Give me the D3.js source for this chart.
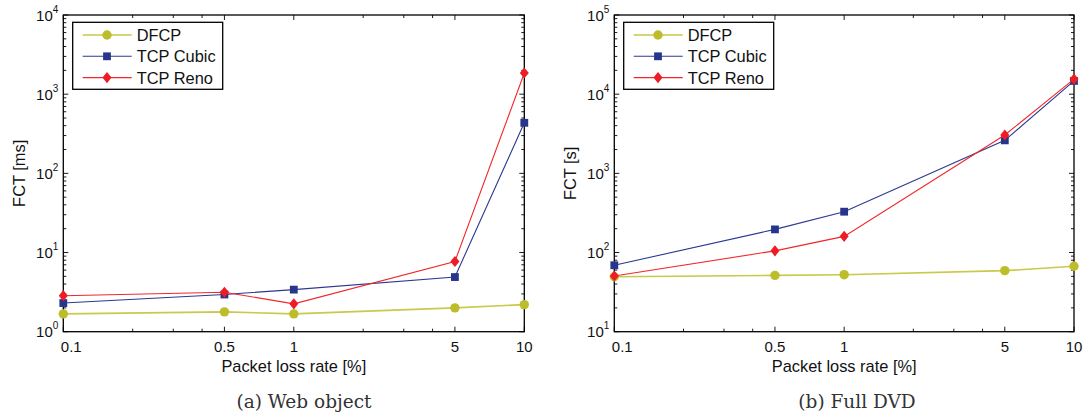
<!DOCTYPE html>
<html>
<head>
<meta charset="utf-8">
<script src="https://cdn.jsdelivr.net/npm/d3@7/dist/d3.min.js"></script>
<style>
  html, body { margin: 0; padding: 0; background: #fff; }
  svg { display: block; }
  text { font-family: "Liberation Sans", Arial, Helvetica, sans-serif; fill: #111; }
  .caption { font-family: "DejaVu Serif", "Liberation Serif", serif; fill: #333; }
</style>
</head>
<body>
<svg id="fig" width="1089" height="420"></svg>
<script>
// Packet loss rates (%) on the x axis
const lossRates = [0.1, 0.5, 1, 5, 10];
const xTickValues = [0.1, 0.5, 1, 5, 10];
const xTickLabels = ["0.1", "0.5", "1", "5", "10"];
const xMinorTicks = [0.2, 0.3, 0.4, 2, 3, 4];

// Series names
const seriesNames = ["DFCP", "TCP Cubic", "TCP Reno"];

// (a) Web object, flow completion time in ms
const webDFCP  = [1.68, 1.78, 1.68, 2.0, 2.2];
const webCubic = [2.3, 2.95, 3.4, 4.9, 435];
const webReno  = [2.85, 3.15, 2.25, 7.7, 1850];
const webYExponents = [0, 1, 2, 3, 4];

// (b) Full DVD, flow completion time in s
const dvdDFCP  = [49.5, 51.5, 52.5, 59, 67];
const dvdCubic = [69, 196, 328, 2610, 14700];
const dvdReno  = [50.5, 105, 160, 3050, 15500];
const dvdYExponents = [1, 2, 3, 4, 5];

const styles = [
  { line: "#c9c94a", fill: "#bdbd2c", width: 1.6, marker: "circle" },
  { line: "#2b3990", fill: "#27368c", width: 1.1, marker: "square" },
  { line: "#f0282c", fill: "#ee1c24", width: 1.1, marker: "diamond" }
];

const svg = d3.select("#fig");

function drawMarker(g, type, cx, cy, s) {
  if (type === "circle") {
    g.append("circle").attr("cx", cx).attr("cy", cy).attr("r", 4.7)
      .attr("fill", s.fill);
  } else if (type === "square") {
    g.append("rect").attr("x", cx - 3.9).attr("y", cy - 3.9)
      .attr("width", 7.8).attr("height", 7.8).attr("fill", s.fill);
  } else {
    g.append("path")
      .attr("d", `M${cx},${cy - 5.6}L${cx + 4.5},${cy}L${cx},${cy + 5.6}L${cx - 4.5},${cy}Z`)
      .attr("fill", s.fill);
  }
}

function panel(opts) {
  const { left, right, top, bottom, yExps, data, yTitle, caption, captionX } = opts;
  const x = d3.scaleLog().domain([0.1, 10]).range([left, right]);
  const y = d3.scaleLog()
    .domain([Math.pow(10, yExps[0]), Math.pow(10, yExps[yExps.length - 1])])
    .range([bottom, top]);
  const g = svg.append("g");

  // tick marks on all four sides, pointing inward
  const tickG = g.append("g").attr("stroke", "#000").attr("stroke-width", 0.9);
  const xTick = (v, len) => {
    tickG.append("line").attr("x1", x(v)).attr("x2", x(v)).attr("y1", bottom).attr("y2", bottom - len);
    tickG.append("line").attr("x1", x(v)).attr("x2", x(v)).attr("y1", top).attr("y2", top + len);
  };
  xTickValues.forEach(v => xTick(v, 5));
  xMinorTicks.forEach(v => xTick(v, 3));

  const yMinor = [];
  for (let e = yExps[0]; e < yExps[yExps.length - 1]; e++) {
    for (let k = 2; k <= 9; k++) yMinor.push(k * Math.pow(10, e));
  }
  const yTick = (v, len) => {
    tickG.append("line").attr("x1", left).attr("x2", left + len).attr("y1", y(v)).attr("y2", y(v));
    tickG.append("line").attr("x1", right).attr("x2", right - len).attr("y1", y(v)).attr("y2", y(v));
  };
  yExps.forEach(e => yTick(Math.pow(10, e), 5));
  yMinor.forEach(v => yTick(v, 3));

  // plot box
  g.append("rect")
    .attr("x", left).attr("y", top)
    .attr("width", right - left).attr("height", bottom - top)
    .attr("fill", "none").attr("stroke", "#000").attr("stroke-width", 1.3);

  // x tick labels
  xTickValues.forEach((v, i) => {
    g.append("text")
      .attr("x", x(v) + (i === 0 ? 8 : 0)).attr("y", bottom + 20.5)
      .attr("text-anchor", "middle").attr("font-size", 15)
      .text(xTickLabels[i]);
  });

  // y tick labels as powers of ten
  yExps.forEach(e => {
    const t = g.append("text")
      .attr("x", left - 5).attr("y", y(Math.pow(10, e)) + 5.6)
      .attr("text-anchor", "end").attr("font-size", 15);
    t.append("tspan").text("10");
    t.append("tspan").attr("font-size", 10).attr("dy", -8).text(String(e));
  });

  // axis titles
  g.append("text")
    .attr("x", (left + right) / 2).attr("y", bottom + 40.5)
    .attr("text-anchor", "middle").attr("font-size", 16.4)
    .text("Packet loss rate [%]");
  g.append("text")
    .attr("transform", `translate(${left - 38.5},${(top + bottom) / 2}) rotate(-90)`)
    .attr("text-anchor", "middle").attr("font-size", 16.4)
    .text(yTitle);

  // series
  const line = d3.line().x((d, i) => x(lossRates[i])).y(d => y(d));
  data.forEach((vals, si) => {
    const s = styles[si];
    const sg = g.append("g");
    sg.append("path").datum(vals).attr("d", line)
      .attr("fill", "none").attr("stroke", s.line).attr("stroke-width", s.width);
    vals.forEach((v, i) => drawMarker(sg, s.marker, x(lossRates[i]), y(v), s));
  });

  // legend
  const lx = left + 9.4, ly = top + 7.3;
  const lg = g.append("g");
  lg.append("rect").attr("x", lx).attr("y", ly).attr("width", 150).attr("height", 67)
    .attr("fill", "#fff").attr("stroke", "#000").attr("stroke-width", 1.3);
  seriesNames.forEach((name, si) => {
    const s = styles[si];
    const cy = ly + 12.7 + si * 21.3;
    lg.append("line").attr("x1", lx + 10).attr("x2", lx + 59).attr("y1", cy).attr("y2", cy)
      .attr("stroke", s.line).attr("stroke-width", s.width);
    drawMarker(lg, s.marker, lx + 34.3, cy, s);
    lg.append("text").attr("x", lx + 64).attr("y", cy + 6)
      .attr("font-size", 16.4).text(name);
  });

  // caption
  svg.append("text").attr("class", "caption")
    .attr("x", captionX).attr("y", 407.5)
    .attr("text-anchor", "middle").attr("font-size", 18.5)
    .text(caption);
}

panel({
  left: 63.3, right: 524.3, top: 15, bottom: 331.7,
  yExps: webYExponents,
  data: [webDFCP, webCubic, webReno],
  yTitle: "FCT [ms]",
  caption: "(a) Web object", captionX: 304
});

panel({
  left: 614.3, right: 1074, top: 15, bottom: 331.7,
  yExps: dvdYExponents,
  data: [dvdDFCP, dvdCubic, dvdReno],
  yTitle: "FCT [s]",
  caption: "(b) Full DVD", captionX: 857
});
</script>
</body>
</html>
